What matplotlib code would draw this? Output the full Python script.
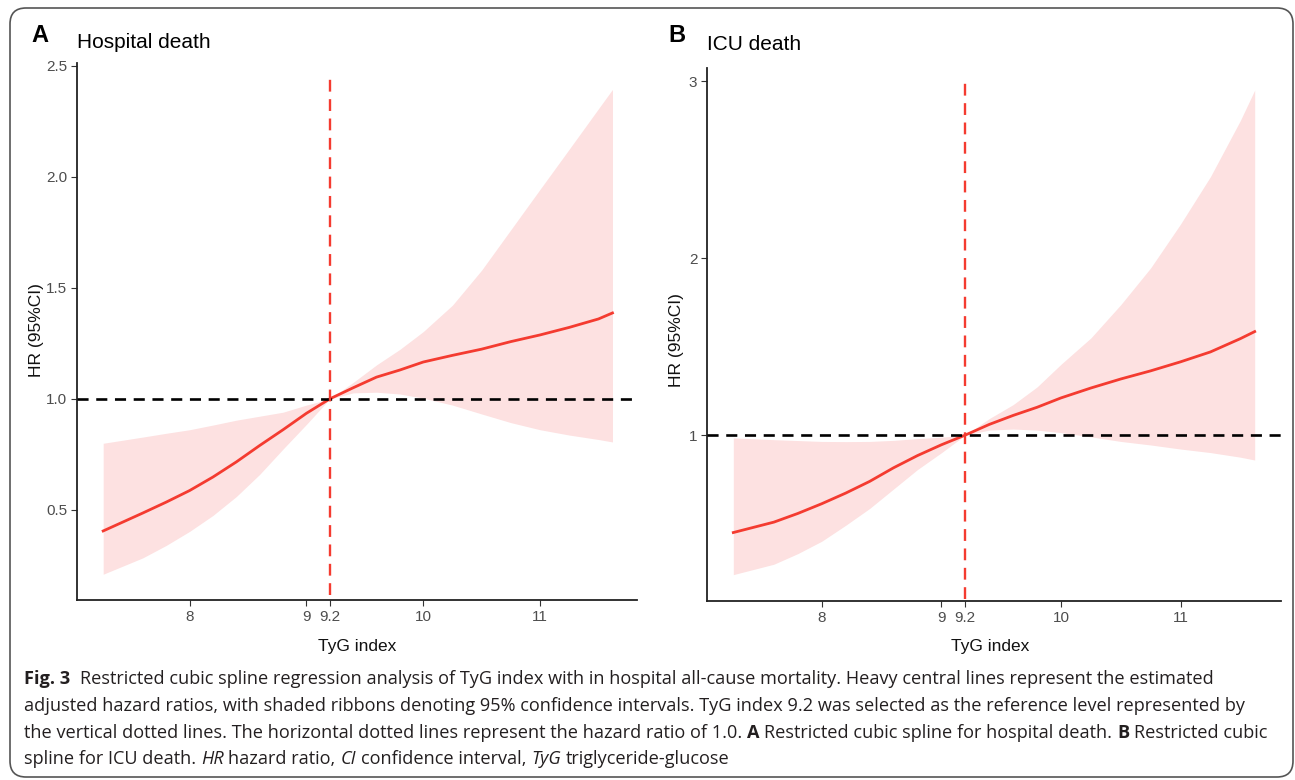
import matplotlib
matplotlib.use("Agg")
import matplotlib.pyplot as plt
from matplotlib.patches import FancyBboxPatch

# ---------------- data ----------------
tyg = [7.26, 7.6, 7.8, 8.0, 8.2, 8.4, 8.6, 8.8, 9.0, 9.2, 9.4, 9.6, 9.8, 10.0, 10.25, 10.5, 10.75, 11.0, 11.25, 11.5, 11.62]

hosp_hr = [0.405, 0.486, 0.535, 0.587, 0.648, 0.716, 0.79, 0.861, 0.935, 1.0, 1.05, 1.098, 1.13, 1.166, 1.196, 1.224, 1.258, 1.288, 1.322, 1.36, 1.387]
hosp_upper = [0.80, 0.828, 0.845, 0.861, 0.882, 0.904, 0.922, 0.94, 0.972, 1.0, 1.074, 1.153, 1.223, 1.303, 1.422, 1.58, 1.762, 1.944, 2.125, 2.307, 2.394]
hosp_lower = [0.21, 0.284, 0.34, 0.403, 0.475, 0.56, 0.66, 0.774, 0.885, 1.0, 1.027, 1.03, 1.022, 1.003, 0.972, 0.932, 0.893, 0.861, 0.837, 0.817, 0.806]

icu_hr = [0.449, 0.508, 0.557, 0.612, 0.672, 0.738, 0.815, 0.884, 0.945, 1.0, 1.06, 1.111, 1.157, 1.21, 1.266, 1.317, 1.363, 1.414, 1.47, 1.545, 1.585]
icu_upper = [0.984, 0.974, 0.969, 0.964, 0.963, 0.964, 0.97, 0.98, 0.988, 1.0, 1.093, 1.172, 1.272, 1.40, 1.549, 1.737, 1.945, 2.193, 2.461, 2.778, 2.95]
icu_lower = [0.211, 0.27, 0.33, 0.40, 0.49, 0.585, 0.695, 0.805, 0.9, 1.0, 1.028, 1.034, 1.028, 1.014, 0.99, 0.964, 0.944, 0.921, 0.901, 0.875, 0.859]

ref_tyg = 9.2
ref_hr = 1.0
x_ticks = [8, 9, 9.2, 10, 11]
x_ticklabels = ["8", "9", "9.2", "10", "11"]
hosp_yticks = [0.5, 1.0, 1.5, 2.0, 2.5]
hosp_yticklabels = ["0.5", "1.0", "1.5", "2.0", "2.5"]
icu_yticks = [1, 2, 3]
icu_yticklabels = ["1", "2", "3"]

panel_letters = ["A", "B"]
panel_titles = ["Hospital death", "ICU death"]
x_label = "TyG index"
y_label = "HR (95%CI)"

caption_lines = [
    [("Fig. 3", "bold", "normal", 0),
     ("Restricted cubic spline regression analysis of TyG index with in hospital all-cause mortality. Heavy central lines represent the estimated", "normal", "normal", 2)],
    [("adjusted hazard ratios, with shaded ribbons denoting 95% confidence intervals. TyG index 9.2 was selected as the reference level represented by", "normal", "normal", 0)],
    [("the vertical dotted lines. The horizontal dotted lines represent the hazard ratio of 1.0.", "normal", "normal", 0),
     ("A", "bold", "normal", 1),
     ("Restricted cubic spline for hospital death.", "normal", "normal", 1),
     ("B", "bold", "normal", 1),
     ("Restricted cubic", "normal", "normal", 1)],
    [("spline for ICU death.", "normal", "normal", 0),
     ("HR", "normal", "italic", 1),
     ("hazard ratio,", "normal", "normal", 1),
     ("CI", "normal", "italic", 1),
     ("confidence interval,", "normal", "normal", 1),
     ("TyG", "normal", "italic", 1),
     ("triglyceride-glucose", "normal", "normal", 1)],
]

# ---------------- style ----------------
W, H = 1295, 780
plt.rcParams["font.family"] = ["Liberation Sans", "DejaVu Sans"]
fig = plt.figure(figsize=(W / 100, H / 100), dpi=100)
fig.patch.set_facecolor("white")

ribbon_col = "#FDE1E1"
line_col = "#F43B30"
vline_col = "#F43B30"


def px_axes(x0, y0, x1, y1):
    return fig.add_axes([x0 / W, 1 - y1 / H, (x1 - x0) / W, (y1 - y0) / H])


def style_axes(ax):
    for s in ["top", "right"]:
        ax.spines[s].set_visible(False)
    for s in ["left", "bottom"]:
        ax.spines[s].set_color("#222222")
        ax.spines[s].set_linewidth(1.3)
    ax.tick_params(direction="out", length=4, width=0.8, color="#333333",
                   labelsize=11, labelcolor="#4D4D4D", pad=3)
    ax.set_facecolor("white")


panels = [
    (px_axes(77, 63, 637, 600), hosp_hr, hosp_lower, hosp_upper,
     (7.036, 11.83), (0.094, 2.513), hosp_yticks, hosp_yticklabels, (2.457, 0.118)),
    (px_axes(707, 68, 1281, 601), icu_hr, icu_lower, icu_upper,
     (7.04, 11.84), (0.062, 3.075), icu_yticks, icu_yticklabels, (3.016, 0.072)),
]

for ax, hr, lo, up, xl, yl, yt, ytl, vseg in panels:
    style_axes(ax)
    ax.fill_between(tyg, lo, up, color=ribbon_col, lw=0, zorder=1)
    ax.plot(tyg, hr, color=line_col, lw=2.0, zorder=3, solid_joinstyle="round")
    ax.axhline(ref_hr, color="black", lw=1.9, linestyle=(0, (4.2, 2.9)), zorder=4)
    ax.vlines(ref_tyg, vseg[1], vseg[0], color=vline_col, lw=1.7,
              linestyles=[(0, (5.0, 3.2))], zorder=4)
    ax.set_xlim(*xl)
    ax.set_ylim(*yl)
    ax.set_xticks(x_ticks)
    ax.set_xticklabels(x_ticklabels)
    ax.set_yticks(yt)
    ax.set_yticklabels(ytl)

# axis labels and titles
fig.text(357 / W, 1 - 647 / H, x_label, ha="center", va="center", fontsize=12.5, color="#111111")
fig.text(990 / W, 1 - 647 / H, x_label, ha="center", va="center", fontsize=12.5, color="#111111")
fig.text(36 / W, 1 - 330 / H, y_label, ha="center", va="center", rotation=90, fontsize=12.5, color="#111111")
fig.text(677 / W, 1 - 340 / H, y_label, ha="center", va="center", rotation=90, fontsize=12.5, color="#111111")

fig.text(40 / W, 1 - 36 / H, panel_letters[0], ha="center", va="center", fontsize=17, fontweight="bold")
fig.text(77 / W, 1 - 42 / H, panel_titles[0], ha="left", va="center", fontsize=15)
fig.text(677 / W, 1 - 36 / H, panel_letters[1], ha="center", va="center", fontsize=17, fontweight="bold")
fig.text(707 / W, 1 - 44 / H, panel_titles[1], ha="left", va="center", fontsize=15)

# border
fig.add_artist(FancyBboxPatch((10, 3), 1283, 769, boxstyle="round,pad=0,rounding_size=16",
                              transform=None, facecolor="none", edgecolor="#555555", lw=1.2))

# caption with mixed styles
renderer = fig.canvas.get_renderer()
cap_font = ["Open Sans", "DejaVu Sans"]
cap_size = 13.1


def text_width(s, weight="normal", style="normal"):
    t = fig.text(0, 0, s, fontsize=cap_size, family=cap_font, fontweight=weight, fontstyle=style)
    w = t.get_window_extent(renderer).width
    t.remove()
    return w


space_w = text_width("a a") - text_width("aa")
baselines = [684, 711, 738, 764]
for line, base in zip(caption_lines, baselines):
    xpix = 24.0
    for s, weight, style, gap in line:
        xpix += gap * space_w
        t = fig.text(xpix / W, 1 - base / H, s, fontsize=cap_size, family=cap_font,
                     fontweight=weight, fontstyle=style, ha="left", va="baseline", color="#231F20")
        xpix += t.get_window_extent(renderer).width

fig.savefig("out.png", dpi=100, facecolor="white")
